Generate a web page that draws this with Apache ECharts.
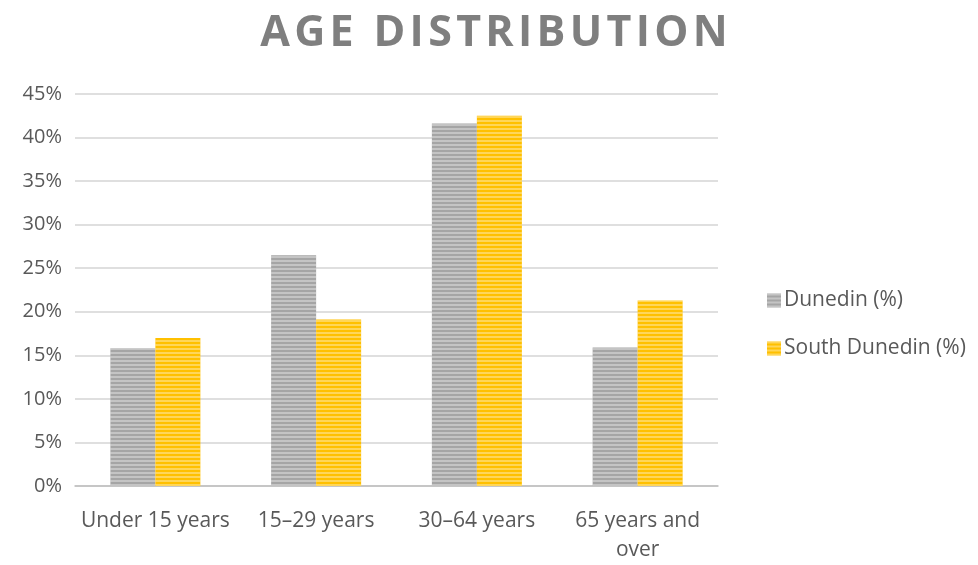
<!DOCTYPE html>
<html>
<head>
<meta charset="utf-8">
<script src="https://cdn.jsdelivr.net/npm/echarts@6/dist/echarts.min.js"></script>
<style>
  html, body { margin: 0; padding: 0; background: #ffffff; }
  #chart { width: 978px; height: 565px; }
</style>
</head>
<body>
<div id="chart"></div>
<script>
// Age groups and the share of population in each (percent)
const categories = ['Under 15 years', '15\u201329 years', '30\u201364 years', '65 years and\nover'];
const dunedin = [15.8, 26.5, 41.6, 15.9];
const southDunedin = [17.0, 19.1, 42.5, 21.3];
const yTicks = [0, 5, 10, 15, 20, 25, 30, 35, 40, 45];
const titleText = 'AGE DISTRIBUTION';

const font = '"Open Sans", "DejaVu Sans", sans-serif';

// Tracked-out heading: a hair space between letters
const spaced = s => s.split('').join('\u200A');

// Fine horizontal stripes over the bar fill
const stripes = {
  symbol: 'rect',
  dashArrayX: [1, 0],
  dashArrayY: [2, 2],
  rotation: 0,
  color: 'rgba(255,255,255,0.35)'
};

const chart = echarts.init(document.getElementById('chart'));
chart.setOption({
  backgroundColor: '#ffffff',
  title: {
    text: spaced(titleText),
    left: 489,
    textAlign: 'center',
    top: 7,
    textStyle: { fontFamily: font, fontSize: 43, fontWeight: 'bold', color: '#7f7f7f' }
  },
  legend: {
    orient: 'vertical',
    left: 762,
    top: 285,
    itemWidth: 14,
    itemHeight: 14,
    itemGap: 27,
    icon: 'rect',
    textStyle: { fontFamily: font, fontSize: 21, color: '#595959', padding: [0, 0, 0, -2] },
    data: ['Dunedin (%)', 'South Dunedin (%)']
  },
  grid: { left: 75, right: 260, top: 94, bottom: 77 },
  xAxis: {
    type: 'category',
    data: categories,
    axisTick: { show: false },
    axisLine: { lineStyle: { color: '#bfbfbf', width: 1.5 } },
    axisLabel: { fontFamily: font, fontSize: 21, color: '#595959', margin: 21, lineHeight: 29, interval: 0 }
  },
  yAxis: {
    type: 'value',
    min: yTicks[0],
    max: yTicks[yTicks.length - 1],
    interval: 5,
    axisLine: { show: false },
    axisTick: { show: false },
    splitLine: { lineStyle: { color: '#d4d4d4', width: 1.5 } },
    axisLabel: {
      fontFamily: font, fontSize: 20, color: '#595959', margin: 13,
      formatter: v => v + '%'
    }
  },
  series: [
    {
      name: 'Dunedin (%)',
      type: 'bar',
      data: dunedin,
      barWidth: 45,
      barGap: '0%',
      itemStyle: { color: '#a5a5a5', decal: stripes }
    },
    {
      name: 'South Dunedin (%)',
      type: 'bar',
      data: southDunedin,
      barWidth: 45,
      barGap: '0%',
      itemStyle: { color: '#ffc000', decal: stripes }
    }
  ]
});
</script>
</body>
</html>
